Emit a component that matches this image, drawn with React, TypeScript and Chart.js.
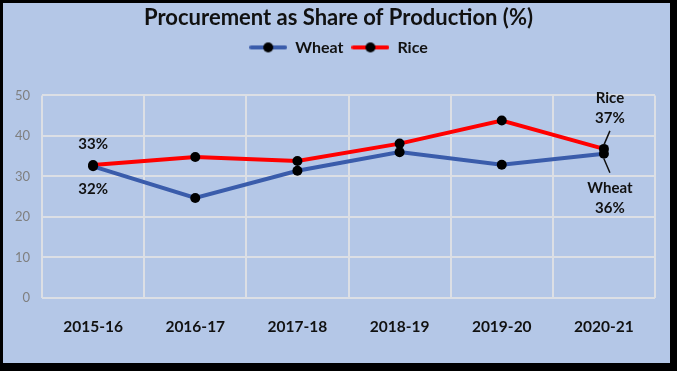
import React, { useEffect, useRef } from 'react';
import { Chart, registerables } from 'chart.js';

Chart.register(...registerables);

const categories = ['2015-16', '2016-17', '2017-18', '2018-19', '2019-20', '2020-21'];
const wheatValues = [32.5, 24.7, 31.4, 36.0, 32.9, 35.6];
const riceValues = [32.8, 34.8, 33.8, 38.1, 43.8, 36.8];
const seriesNames = ['Wheat', 'Rice'];
const firstLabels = ['32%', '33%'];
const lastLabels = ['Wheat', '36%', 'Rice', '37%'];
const chartTitle = 'Procurement as Share of Production (%)';

const FONT = 'Lato, "Open Sans", sans-serif';
const BG = '#B4C7E7';
const WHEAT = '#3A5CAB';
const RICE = '#FF0000';
const GRID = '#DCDFE5';

function legendIcon(color: string): HTMLCanvasElement {
  const c = document.createElement('canvas');
  c.width = 38;
  c.height = 12;
  const ctx = c.getContext('2d')!;
  ctx.strokeStyle = color;
  ctx.lineWidth = 4;
  ctx.lineCap = 'round';
  ctx.beginPath();
  ctx.moveTo(2, 6);
  ctx.lineTo(36, 6);
  ctx.stroke();
  ctx.fillStyle = '#000';
  ctx.beginPath();
  ctx.arc(19, 6, 5, 0, Math.PI * 2);
  ctx.fill();
  return c;
}

const bgPlugin = {
  id: 'bgFrame',
  beforeDraw(chart: any) {
    const { ctx, width, height } = chart;
    ctx.save();
    ctx.fillStyle = '#000';
    ctx.fillRect(0, 0, width, height);
    ctx.fillStyle = BG;
    ctx.fillRect(3, 3, 667, 360);
    ctx.restore();
  },
};

const legendSpacer = {
  id: 'legendSpacer',
  beforeInit(chart: any) {
    const orig = chart.legend.fit;
    chart.legend.fit = function () {
      orig.call(this);
      this.height += 30;
    };
  },
};

const labelPlugin = {
  id: 'endLabels',
  afterDatasetsDraw(chart: any) {
    const { ctx } = chart;
    const w = chart.getDatasetMeta(0).data;
    const r = chart.getDatasetMeta(1).data;
    ctx.save();
    ctx.font = `bold 15px ${FONT}`;
    ctx.fillStyle = '#111';
    ctx.textAlign = 'center';
    ctx.textBaseline = 'middle';
    const w0 = w[0];
    const r0 = r[0];
    ctx.fillText(firstLabels[1], r0.x, r0.y - 21);
    ctx.fillText(firstLabels[0], w0.x, w0.y + 23);
    const wl = w[w.length - 1];
    const rl = r[r.length - 1];
    ctx.strokeStyle = '#111';
    ctx.lineWidth = 1.5;
    ctx.beginPath();
    ctx.moveTo(rl.x, rl.y - 4);
    ctx.lineTo(rl.x + 6, rl.y - 18);
    ctx.moveTo(wl.x, wl.y + 5);
    ctx.lineTo(wl.x + 6, wl.y + 19);
    ctx.stroke();
    ctx.fillText(lastLabels[2], rl.x + 6, rl.y - 51);
    ctx.fillText(lastLabels[3], rl.x + 6, rl.y - 31);
    ctx.fillText(lastLabels[0], wl.x + 6, wl.y + 34);
    ctx.fillText(lastLabels[1], wl.x + 6, wl.y + 54);
    ctx.restore();
  },
};

export default function App() {
  const ref = useRef<HTMLCanvasElement>(null);
  useEffect(() => {
    document.body.style.margin = '0';
    const icons = [legendIcon(WHEAT), legendIcon(RICE)];
    const chart = new Chart(ref.current!, {
      type: 'line',
      data: {
        labels: categories,
        datasets: [
          {
            label: seriesNames[0],
            data: wheatValues,
            borderColor: WHEAT,
            backgroundColor: WHEAT,
            borderWidth: 4,
            pointRadius: 5,
            pointBackgroundColor: '#000',
            pointBorderColor: '#000',
            pointBorderWidth: 0,
            tension: 0,
          },
          {
            label: seriesNames[1],
            data: riceValues,
            borderColor: RICE,
            backgroundColor: RICE,
            borderWidth: 4,
            pointRadius: 5,
            pointBackgroundColor: '#000',
            pointBorderColor: '#000',
            pointBorderWidth: 0,
            tension: 0,
          },
        ],
      },
      options: {
        responsive: false,
        animation: false,
        layout: { padding: { top: 3, left: 0, right: 0, bottom: 0 } },
        plugins: {
          title: {
            display: true,
            text: chartTitle,
            color: '#111',
            font: { family: FONT, size: 22, weight: 'bold' },
            padding: { top: 2, bottom: 0 },
          },
          legend: {
            display: true,
            labels: {
              color: '#111',
              font: { family: FONT, size: 16, weight: 'bold' },
              usePointStyle: true,
              pointStyleWidth: 38,
              padding: 8,
              generateLabels(chart: any) {
                const items = Chart.defaults.plugins.legend.labels.generateLabels(chart);
                return items.map((it: any, i: number) => ({ ...it, pointStyle: icons[i] }));
              },
            },
          },
          tooltip: { enabled: false },
        },
        scales: {
          x: {
            offset: true,
            grid: { display: true, offset: true, color: GRID, lineWidth: 2, drawTicks: false },
            border: { display: false },
            ticks: {
              color: '#111',
              font: { family: FONT, size: 15.5, weight: 'bold' },
              padding: 20,
              maxRotation: 0,
            },
            afterFit(s: any) {
              s.height = 73;
            },
          },
          y: {
            min: 0,
            max: 50,
            ticks: {
              stepSize: 10,
              color: '#7F7F7F',
              font: { family: FONT, size: 13 },
              padding: 12,
            },
            grid: { color: GRID, lineWidth: 2, drawTicks: false },
            border: { display: false },
            afterFit(s: any) {
              s.width = 42;
            },
          },
          y2: {
            position: 'right',
            display: true,
            grid: { display: false },
            border: { display: false },
            ticks: { display: false },
            afterFit(s: any) {
              s.width = 22;
            },
          },
        },
      },
      plugins: [bgPlugin, legendSpacer, labelPlugin],
    });
    return () => chart.destroy();
  }, []);
  return <canvas ref={ref} width={677} height={371} style={{ display: 'block' }} />;
}
